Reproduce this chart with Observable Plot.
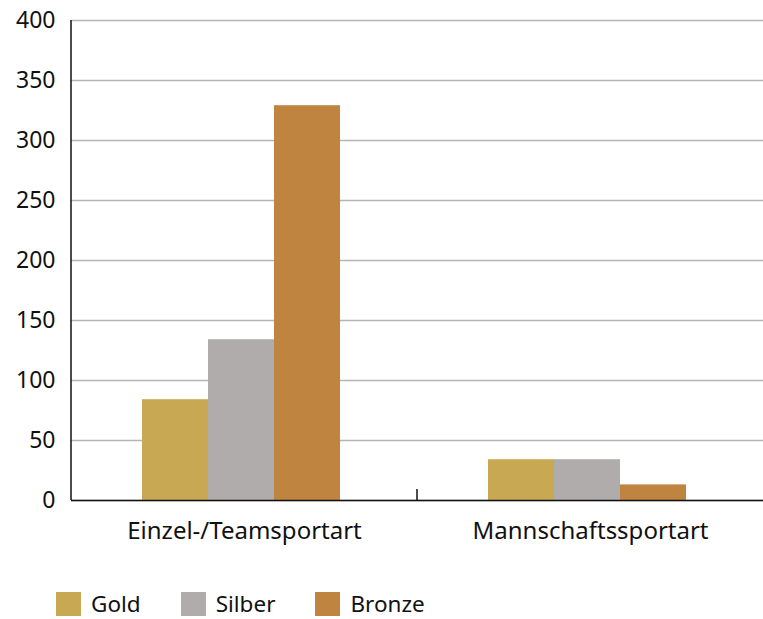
<!DOCTYPE html>
<html><head><meta charset="utf-8">
<script src="https://cdn.jsdelivr.net/npm/d3@7"></script>
<script src="https://cdn.jsdelivr.net/npm/@observablehq/plot@0.6"></script>
<style>
body{margin:0;background:#fff;font-family:"Noto Sans",sans-serif}
#chart svg{display:block}
#legend{display:flex;align-items:center;padding-left:56px;margin-top:28px;font-size:22.5px;color:#111;line-height:normal}
.item{display:flex;align-items:center;margin-right:40px}
.sw{width:25px;height:24px;margin-right:10px}
</style></head><body><div id="chart"></div><div id="legend"></div>
<script>
const categories = ["Einzel-/Teamsportart", "Mannschaftssportart"];
const medals = ["Gold", "Silber", "Bronze"];
const einzelValues = [84, 134, 329];
const mannschaftValues = [34, 34, 13];
const colors = ["#C8A853", "#B0ACAB", "#C08441"];
const yTicks = [0, 50, 100, 150, 200, 250, 300, 350, 400];

const data = [];
[einzelValues, mannschaftValues].forEach((vals, ci) =>
  vals.forEach((v, mi) => data.push({category: categories[ci], medal: medals[mi], value: v})));

const plot = Plot.plot({
  width: 763, height: 560, marginLeft: 70, marginRight: 0, marginTop: 20, marginBottom: 60,
  style: {fontFamily: '"Noto Sans", sans-serif', color: "#111", background: "#fff"},
  fx: {domain: categories, padding: 0, label: null},
  x: {domain: medals, paddingInner: 0, paddingOuter: 1.1, align: 0.48, axis: null},
  y: {domain: [0, 400], label: null},
  color: {domain: medals, range: colors},
  marks: [
    Plot.gridY(yTicks, {stroke: "#b4b4b4", strokeOpacity: 1, strokeWidth: 1.5}),
    Plot.barY(data, {fx: "category", x: "medal", y: "value", fill: "medal"}),
    Plot.ruleY([0], {stroke: "#111", strokeWidth: 1.5}),
    Plot.axisY(yTicks, {tickSize: 0, tickPadding: 16, fontSize: 23, label: null}),
    Plot.axisFx({anchor: "bottom", tickSize: 0, tickPadding: 21, fontSize: 24, label: null})
  ]
});
document.getElementById("chart").appendChild(plot);

// y-axis line and category divider tick, placed via the plot's own scales
const fx = plot.scale("fx"), y = plot.scale("y");
const svg = d3.select(plot);
const x0 = fx.apply(categories[0]);
svg.append("line").attr("x1", x0).attr("x2", x0).attr("y1", y.apply(0)).attr("y2", y.apply(400))
  .attr("stroke", "#111").attr("stroke-width", 1.5);
const x1 = fx.apply(categories[1]);
svg.append("line").attr("x1", x1).attr("x2", x1).attr("y1", y.apply(0)).attr("y2", y.apply(0) - 11)
  .attr("stroke", "#111").attr("stroke-width", 1.5);

const legend = d3.select("#legend");
medals.forEach((m, i) => {
  const it = legend.append("div").attr("class", "item");
  it.append("div").attr("class", "sw").style("background", colors[i]);
  it.append("span").text(m);
});
</script></body></html>
